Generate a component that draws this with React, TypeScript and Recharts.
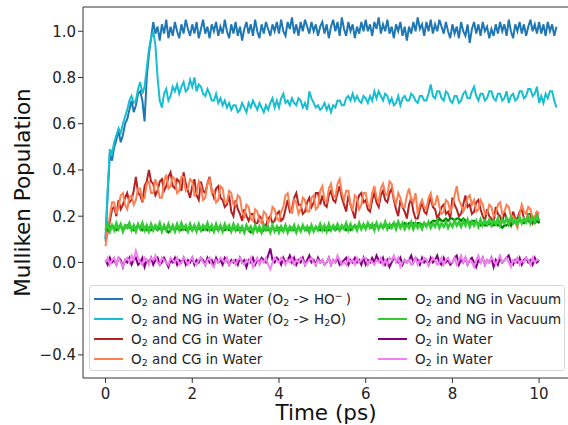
import React from "react";
import { LineChart, Line, XAxis, YAxis, Label, ReferenceLine } from "recharts";

const TIME = [
  0.0, 0.05, 0.1, 0.15, 0.2, 0.25, 0.3, 0.35, 0.4, 0.45, 0.5, 0.55, 0.6, 0.65, 0.7, 0.75, 0.8, 0.85, 0.9, 0.95,
  1.0, 1.05, 1.1, 1.15, 1.2, 1.25, 1.3, 1.35, 1.4, 1.45, 1.5, 1.55, 1.6, 1.65, 1.7, 1.75, 1.8, 1.85, 1.9, 1.95,
  2.0, 2.05, 2.1, 2.15, 2.2, 2.25, 2.3, 2.35, 2.4, 2.45, 2.5, 2.55, 2.6, 2.65, 2.7, 2.75, 2.8, 2.85, 2.9, 2.95,
  3.0, 3.05, 3.1, 3.15, 3.2, 3.25, 3.3, 3.35, 3.4, 3.45, 3.5, 3.55, 3.6, 3.65, 3.7, 3.75, 3.8, 3.85, 3.9, 3.95,
  4.0, 4.05, 4.1, 4.15, 4.2, 4.25, 4.3, 4.35, 4.4, 4.45, 4.5, 4.55, 4.6, 4.65, 4.7, 4.75, 4.8, 4.85, 4.9, 4.95,
  5.0, 5.05, 5.1, 5.15, 5.2, 5.25, 5.3, 5.35, 5.4, 5.45, 5.5, 5.55, 5.6, 5.65, 5.7, 5.75, 5.8, 5.85, 5.9, 5.95,
  6.0, 6.05, 6.1, 6.15, 6.2, 6.25, 6.3, 6.35, 6.4, 6.45, 6.5, 6.55, 6.6, 6.65, 6.7, 6.75, 6.8, 6.85, 6.9, 6.95,
  7.0, 7.05, 7.1, 7.15, 7.2, 7.25, 7.3, 7.35, 7.4, 7.45, 7.5, 7.55, 7.6, 7.65, 7.7, 7.75, 7.8, 7.85, 7.9, 7.95,
  8.0, 8.05, 8.1, 8.15, 8.2, 8.25, 8.3, 8.35, 8.4, 8.45, 8.5, 8.55, 8.6, 8.65, 8.7, 8.75, 8.8, 8.85, 8.9, 8.95,
  9.0, 9.05, 9.1, 9.15, 9.2, 9.25, 9.3, 9.35, 9.4, 9.45, 9.5, 9.55, 9.6, 9.65, 9.7, 9.75, 9.8, 9.85, 9.9, 9.95,
  10.0, 10.05, 10.1, 10.15, 10.2, 10.25, 10.3, 10.35, 10.4,
];

// O2 and NG in Water (O2 -> HO-)
const NG_WATER_HO = [
  0.10, 0.30, 0.47, 0.44, 0.50, 0.53, 0.57, 0.52, 0.55, 0.60, 0.62, 0.66, 0.70, 0.65, 0.68, 0.73, 0.74, 0.70, 0.61, 0.80,
  0.90, 0.97, 1.04, 0.99, 1.02, 0.96, 1.03, 0.99, 1.05, 0.97, 1.02, 0.98, 1.04, 1.00, 0.97, 1.03, 0.99, 1.05, 1.01, 0.98,
  1.03, 0.99, 1.04, 0.97, 1.01, 1.05, 0.99, 1.02, 0.97, 1.03, 1.00, 1.04, 0.98, 1.02, 0.99, 1.05, 1.00, 0.97, 1.03, 0.99,
  1.04, 0.98, 1.02, 0.96, 1.01, 1.04, 0.99, 1.03, 0.98, 1.05, 1.00, 0.97, 1.03, 0.99, 1.04, 1.01, 0.98, 1.03, 1.00, 1.04,
  0.99, 1.05, 1.00, 0.98, 1.04, 1.01, 1.06, 0.99, 1.03, 0.98, 1.04, 1.00, 1.05, 1.02, 0.99, 1.04, 1.00, 1.03, 0.98, 1.02,
  1.04, 0.99, 1.03, 0.97, 1.02, 1.05, 1.00, 1.04, 0.98, 1.06, 1.01, 0.98, 1.04, 1.00, 1.03, 0.97, 1.02, 0.99, 1.04, 1.00,
  1.05, 1.00, 1.03, 0.98, 1.04, 1.01, 1.06, 0.99, 1.03, 1.00, 1.05, 0.99, 1.02, 0.97, 1.03, 1.00, 1.04, 0.98, 1.02, 0.96,
  1.02, 0.99, 1.04, 1.00, 1.06, 1.01, 1.03, 0.98, 1.04, 1.00, 1.05, 0.99, 1.03, 1.00, 1.05, 1.02, 0.99, 1.04, 1.00, 0.97,
  1.03, 0.99, 1.02, 0.97, 1.04, 1.00, 0.98, 1.03, 0.95, 1.01, 1.04, 0.99, 1.03, 0.98, 1.04, 1.00, 1.02, 0.97, 1.01, 0.98,
  1.03, 0.99, 1.04, 1.00, 1.03, 0.98, 1.05, 1.00, 0.97, 1.03, 1.00, 1.04, 0.99, 1.03, 0.98, 1.02, 1.05, 1.00, 1.03, 0.99,
  1.04, 0.99, 1.03, 0.98, 1.04, 1.00, 1.03, 0.98, 1.02,
];

// O2 and NG in Water (O2 -> H2O)
const NG_WATER_H2O = [
  0.10, 0.32, 0.49, 0.47, 0.52, 0.55, 0.58, 0.56, 0.60, 0.63, 0.66, 0.70, 0.72, 0.69, 0.70, 0.75, 0.78, 0.73, 0.76, 0.84,
  0.92, 0.97, 1.00, 0.94, 0.80, 0.70, 0.67, 0.73, 0.75, 0.70, 0.72, 0.76, 0.74, 0.77, 0.73, 0.76, 0.78, 0.74, 0.75, 0.79,
  0.76, 0.80, 0.74, 0.77, 0.76, 0.73, 0.72, 0.75, 0.73, 0.70, 0.70, 0.73, 0.69, 0.71, 0.68, 0.70, 0.67, 0.69, 0.66, 0.68,
  0.68, 0.65, 0.66, 0.69, 0.67, 0.65, 0.69, 0.67, 0.70, 0.68, 0.66, 0.69, 0.67, 0.65, 0.68, 0.66, 0.69, 0.71, 0.67, 0.70,
  0.67, 0.71, 0.73, 0.69, 0.70, 0.68, 0.71, 0.69, 0.68, 0.71, 0.70, 0.67, 0.69, 0.66, 0.74, 0.71, 0.69, 0.67, 0.68, 0.66,
  0.67, 0.69, 0.66, 0.68, 0.65, 0.68, 0.67, 0.70, 0.70, 0.68, 0.68, 0.71, 0.72, 0.70, 0.73, 0.70, 0.72, 0.70, 0.69, 0.72,
  0.71, 0.69, 0.72, 0.70, 0.74, 0.71, 0.74, 0.72, 0.70, 0.73, 0.72, 0.69, 0.71, 0.68, 0.69, 0.72, 0.68, 0.71, 0.72, 0.70,
  0.70, 0.73, 0.72, 0.70, 0.69, 0.72, 0.72, 0.70, 0.70, 0.73, 0.77, 0.72, 0.71, 0.74, 0.74, 0.71, 0.70, 0.74, 0.73, 0.70,
  0.69, 0.72, 0.72, 0.69, 0.70, 0.73, 0.74, 0.71, 0.71, 0.74, 0.76, 0.72, 0.70, 0.73, 0.73, 0.70, 0.71, 0.74, 0.74, 0.71,
  0.70, 0.73, 0.73, 0.70, 0.71, 0.74, 0.69, 0.72, 0.73, 0.70, 0.71, 0.74, 0.74, 0.71, 0.72, 0.75, 0.75, 0.72, 0.73, 0.76,
  0.69, 0.72, 0.69, 0.73, 0.71, 0.74, 0.74, 0.70, 0.67,
];

// O2 and CG in Water (firebrick)
const CG_WATER_A = [
  0.09, 0.13, 0.18, 0.23, 0.24, 0.20, 0.27, 0.23, 0.25, 0.28, 0.30, 0.26, 0.27, 0.31, 0.37, 0.30, 0.29, 0.26, 0.33, 0.35,
  0.40, 0.35, 0.34, 0.29, 0.31, 0.35, 0.36, 0.31, 0.33, 0.37, 0.39, 0.33, 0.32, 0.36, 0.35, 0.31, 0.39, 0.34, 0.31, 0.28,
  0.33, 0.36, 0.29, 0.27, 0.35, 0.31, 0.30, 0.34, 0.37, 0.31, 0.28, 0.32, 0.33, 0.28, 0.27, 0.24, 0.25, 0.29, 0.22, 0.20,
  0.27, 0.23, 0.21, 0.18, 0.23, 0.20, 0.18, 0.21, 0.21, 0.17, 0.17, 0.20, 0.19, 0.16, 0.16, 0.19, 0.20, 0.17, 0.18, 0.21,
  0.22, 0.18, 0.19, 0.23, 0.27, 0.22, 0.23, 0.28, 0.30, 0.25, 0.25, 0.21, 0.22, 0.26, 0.28, 0.24, 0.26, 0.30, 0.30, 0.25,
  0.29, 0.25, 0.24, 0.29, 0.31, 0.27, 0.26, 0.30, 0.33, 0.28, 0.25, 0.22, 0.29, 0.25, 0.22, 0.19, 0.26, 0.29, 0.30, 0.26,
  0.27, 0.23, 0.22, 0.27, 0.30, 0.26, 0.24, 0.29, 0.31, 0.27, 0.26, 0.30, 0.32, 0.27, 0.23, 0.20, 0.27, 0.24, 0.22, 0.19,
  0.25, 0.28, 0.22, 0.19, 0.19, 0.23, 0.26, 0.22, 0.21, 0.25, 0.28, 0.24, 0.23, 0.19, 0.21, 0.24, 0.25, 0.21, 0.22, 0.19,
  0.28, 0.25, 0.23, 0.20, 0.21, 0.25, 0.29, 0.24, 0.25, 0.21, 0.22, 0.26, 0.27, 0.23, 0.20, 0.18, 0.23, 0.20, 0.19, 0.17,
  0.24, 0.21, 0.20, 0.17, 0.22, 0.19, 0.18, 0.16, 0.22, 0.19, 0.19, 0.22, 0.23, 0.19, 0.18, 0.21, 0.21, 0.17, 0.19, 0.22,
  0.17,
];

// O2 and CG in Water (coral)
const CG_WATER_B = [
  0.07, 0.15, 0.20, 0.26, 0.26, 0.21, 0.24, 0.29, 0.30, 0.25, 0.23, 0.28, 0.29, 0.25, 0.27, 0.32, 0.32, 0.27, 0.28, 0.34,
  0.35, 0.30, 0.30, 0.36, 0.33, 0.28, 0.28, 0.35, 0.38, 0.32, 0.33, 0.37, 0.36, 0.30, 0.31, 0.37, 0.37, 0.31, 0.32, 0.36,
  0.35, 0.29, 0.30, 0.35, 0.33, 0.27, 0.28, 0.34, 0.36, 0.30, 0.31, 0.26, 0.27, 0.33, 0.32, 0.26, 0.26, 0.31, 0.30, 0.25,
  0.25, 0.29, 0.28, 0.22, 0.20, 0.25, 0.24, 0.19, 0.18, 0.23, 0.22, 0.18, 0.17, 0.22, 0.21, 0.17, 0.19, 0.24, 0.23, 0.19,
  0.18, 0.22, 0.24, 0.29, 0.30, 0.24, 0.21, 0.27, 0.26, 0.21, 0.23, 0.28, 0.27, 0.22, 0.22, 0.28, 0.29, 0.23, 0.24, 0.31,
  0.33, 0.27, 0.26, 0.32, 0.34, 0.29, 0.28, 0.34, 0.36, 0.30, 0.27, 0.31, 0.31, 0.25, 0.23, 0.29, 0.28, 0.23, 0.25, 0.30,
  0.30, 0.25, 0.24, 0.30, 0.33, 0.28, 0.26, 0.32, 0.34, 0.30, 0.29, 0.35, 0.34, 0.28, 0.25, 0.30, 0.28, 0.24, 0.24, 0.29,
  0.32, 0.27, 0.26, 0.30, 0.21, 0.25, 0.27, 0.24, 0.23, 0.28, 0.30, 0.25, 0.25, 0.29, 0.24, 0.21, 0.22, 0.27, 0.26, 0.22,
  0.24, 0.29, 0.33, 0.27, 0.25, 0.22, 0.24, 0.28, 0.29, 0.25, 0.27, 0.22, 0.23, 0.27, 0.25, 0.21, 0.21, 0.25, 0.24, 0.20,
  0.21, 0.25, 0.26, 0.21, 0.22, 0.25, 0.24, 0.20, 0.20, 0.17, 0.15, 0.21, 0.25, 0.22, 0.21, 0.24, 0.23, 0.19, 0.20, 0.22,
  0.21,
];

// O2 and NG in Vacuum (green)
const NG_VACUUM_A = [
  0.15, 0.14, 0.15, 0.16, 0.15, 0.14, 0.15, 0.16, 0.14, 0.15, 0.16, 0.15, 0.15, 0.14, 0.15, 0.16, 0.15, 0.14, 0.15, 0.14,
  0.15, 0.14, 0.15, 0.15, 0.14, 0.15, 0.14, 0.15, 0.14, 0.13, 0.14, 0.15, 0.14, 0.15, 0.14, 0.14, 0.15, 0.14, 0.14, 0.15,
  0.14, 0.15, 0.14, 0.15, 0.14, 0.14, 0.15, 0.14, 0.15, 0.14, 0.14, 0.15, 0.14, 0.15, 0.14, 0.14, 0.15, 0.14, 0.14, 0.15,
  0.14, 0.14, 0.15, 0.14, 0.14, 0.15, 0.14, 0.13, 0.14, 0.15, 0.14, 0.14, 0.13, 0.14, 0.15, 0.14, 0.14, 0.15, 0.14, 0.14,
  0.15, 0.14, 0.14, 0.15, 0.14, 0.14, 0.15, 0.14, 0.14, 0.15, 0.14, 0.15, 0.15, 0.14, 0.15, 0.15, 0.14, 0.15, 0.15, 0.14,
  0.15, 0.14, 0.15, 0.14, 0.15, 0.15, 0.14, 0.15, 0.14, 0.15, 0.15, 0.14, 0.15, 0.14, 0.15, 0.16, 0.15, 0.16, 0.15, 0.16,
  0.15, 0.16, 0.16, 0.15, 0.16, 0.16, 0.15, 0.16, 0.15, 0.16, 0.16, 0.15, 0.16, 0.17, 0.16, 0.17, 0.16, 0.16, 0.17, 0.16,
  0.17, 0.16, 0.17, 0.16, 0.17, 0.17, 0.16, 0.17, 0.16, 0.17, 0.17, 0.18, 0.18, 0.17, 0.19, 0.18, 0.18, 0.19, 0.18, 0.19,
  0.19, 0.18, 0.19, 0.19, 0.18, 0.19, 0.18, 0.18, 0.17, 0.18, 0.18, 0.17, 0.17, 0.16, 0.17, 0.16, 0.16, 0.17, 0.16, 0.16,
  0.17, 0.16, 0.16, 0.15, 0.16, 0.16, 0.17, 0.16, 0.17, 0.18, 0.17, 0.18, 0.18, 0.17, 0.18, 0.18, 0.17, 0.18, 0.17, 0.18,
  0.17,
];

// O2 and NG in Vacuum (limegreen)
const NG_VACUUM_B = [
  0.14, 0.165, 0.135, 0.16, 0.14, 0.17, 0.145, 0.165, 0.135, 0.16, 0.15, 0.17, 0.14, 0.16, 0.135, 0.165, 0.145, 0.17, 0.14, 0.16,
  0.135, 0.165, 0.14, 0.16, 0.145, 0.17, 0.135, 0.16, 0.14, 0.165, 0.14, 0.16, 0.135, 0.165, 0.14, 0.17, 0.145, 0.16, 0.135, 0.165,
  0.14, 0.16, 0.135, 0.165, 0.14, 0.16, 0.145, 0.17, 0.14, 0.16, 0.135, 0.165, 0.14, 0.16, 0.135, 0.165, 0.145, 0.16, 0.135, 0.165,
  0.14, 0.16, 0.135, 0.155, 0.13, 0.16, 0.14, 0.155, 0.13, 0.16, 0.135, 0.155, 0.13, 0.16, 0.14, 0.155, 0.13, 0.16, 0.135, 0.155,
  0.13, 0.155, 0.135, 0.16, 0.13, 0.155, 0.14, 0.16, 0.13, 0.155, 0.135, 0.16, 0.14, 0.155, 0.13, 0.16, 0.135, 0.155, 0.14, 0.165,
  0.14, 0.16, 0.135, 0.165, 0.14, 0.16, 0.145, 0.165, 0.14, 0.16, 0.145, 0.17, 0.14, 0.165, 0.145, 0.16, 0.14, 0.17, 0.145, 0.165,
  0.145, 0.17, 0.15, 0.165, 0.14, 0.17, 0.145, 0.165, 0.15, 0.175, 0.145, 0.165, 0.15, 0.17, 0.145, 0.175, 0.15, 0.17, 0.145, 0.165,
  0.15, 0.175, 0.145, 0.17, 0.15, 0.165, 0.145, 0.17, 0.155, 0.175, 0.15, 0.17, 0.155, 0.18, 0.15, 0.17, 0.155, 0.175, 0.15, 0.17,
  0.155, 0.18, 0.16, 0.175, 0.155, 0.18, 0.16, 0.185, 0.155, 0.175, 0.16, 0.18, 0.155, 0.185, 0.16, 0.18, 0.165, 0.185, 0.16, 0.18,
  0.165, 0.19, 0.16, 0.185, 0.17, 0.19, 0.165, 0.195, 0.17, 0.185, 0.165, 0.195, 0.17, 0.19, 0.175, 0.2, 0.17, 0.195, 0.175, 0.2,
  0.18,
];

// O2 in Water (purple)
const O2_WATER_A = [
  0.01, -0.01, 0.02, 0.00, 0.01, -0.01, 0.02, 0.01, -0.02, 0.01, 0.00, 0.02, -0.01, 0.01, 0.02, -0.01, 0.00, 0.02, -0.02, 0.01,
  0.00, 0.02, -0.01, 0.01, 0.02, -0.01, 0.00, 0.02, 0.00, -0.02, 0.01, 0.00, 0.02, -0.01, 0.01, 0.00, 0.02, -0.01, 0.01, 0.00,
  0.02, -0.01, 0.01, 0.00, 0.02, 0.01, -0.01, 0.02, 0.00, 0.01, -0.01, 0.02, 0.00, 0.01, -0.01, 0.02, 0.01, -0.01, 0.01, 0.00,
  0.01, -0.01, 0.02, 0.00, 0.01, -0.02, 0.01, 0.00, 0.02, -0.01, 0.01, 0.00, 0.02, 0.01, 0.00, 0.03, 0.06, 0.01, 0.00, 0.02,
  0.01, -0.01, 0.02, 0.00, 0.01, 0.03, 0.00, 0.02, -0.01, 0.01, 0.00, 0.02, -0.01, 0.01, 0.03, 0.00, 0.01, -0.01, 0.02, 0.00,
  0.01, -0.01, 0.00, 0.02, -0.01, 0.01, 0.00, 0.02, -0.01, 0.00, 0.01, 0.02, -0.01, 0.01, 0.00, 0.02, 0.00, 0.01, -0.01, 0.02,
  -0.01, 0.01, 0.00, 0.02, 0.00, 0.03, 0.01, 0.00, 0.02, -0.01, 0.01, -0.02, 0.00, 0.02, 0.01, 0.00, 0.02, -0.01, 0.01, 0.00,
  0.01, 0.03, 0.00, 0.02, 0.01, -0.01, 0.02, 0.00, 0.01, -0.01, 0.02, 0.00, 0.01, 0.03, 0.00, -0.01, 0.02, 0.00, 0.01, -0.01,
  0.00, 0.02, 0.03, -0.01, 0.01, 0.00, 0.02, -0.01, 0.01, 0.02, 0.00, -0.02, 0.01, 0.00, 0.02, -0.01, 0.01, 0.00, 0.02, -0.02,
  0.01, -0.01, 0.02, 0.00, 0.01, 0.02, 0.03, 0.00, -0.01, 0.01, 0.00, 0.02, -0.01, 0.01, 0.02, 0.00, 0.01, -0.01, 0.02, 0.00,
  0.01,
];

// O2 in Water (violet)
const O2_WATER_B = [
  0.00, 0.02, -0.01, 0.01, 0.02, -0.01, 0.02, 0.00, -0.02, 0.01, 0.02, 0.00, 0.03, 0.01, 0.05, 0.02, 0.00, -0.01, 0.02, 0.01,
  -0.01, 0.02, 0.01, 0.03, 0.00, -0.01, 0.02, 0.01, 0.00, -0.01, 0.02, 0.01, 0.00, 0.02, -0.01, 0.00, 0.02, 0.01, -0.01, 0.01,
  0.02, 0.00, -0.01, 0.01, 0.02, 0.00, -0.01, 0.01, 0.02, -0.01, -0.02, 0.01, 0.00, 0.02, 0.01, 0.00, 0.02, -0.01, 0.00, 0.01,
  -0.01, 0.01, 0.02, 0.00, -0.01, 0.01, 0.00, 0.02, -0.02, 0.00, 0.02, -0.01, 0.01, 0.00, 0.02, -0.01, -0.03, 0.00, 0.02, 0.01,
  0.00, 0.02, 0.01, -0.01, 0.01, 0.00, 0.02, -0.01, 0.01, 0.00, 0.02, 0.01, -0.01, 0.00, 0.01, 0.02, 0.00, -0.01, 0.01, 0.00,
  0.01, -0.01, 0.00, 0.02, -0.01, 0.01, 0.00, 0.03, 0.01, -0.01, 0.00, -0.01, 0.02, 0.00, 0.01, -0.01, 0.02, 0.00, 0.01, 0.02,
  0.02, -0.01, 0.01, 0.00, -0.01, 0.01, 0.00, 0.02, -0.01, 0.01, -0.01, 0.02, 0.01, 0.03, 0.00, 0.02, -0.02, 0.00, 0.01, 0.00,
  0.01, -0.01, 0.00, 0.02, -0.01, 0.01, 0.00, 0.02, 0.01, -0.01, 0.00, 0.02, 0.01, -0.01, 0.00, 0.02, -0.01, 0.01, 0.02, 0.00,
  0.00, 0.02, -0.01, 0.01, 0.03, 0.00, 0.02, -0.01, 0.01, 0.00, -0.02, 0.01, 0.03, 0.00, 0.02, -0.01, 0.01, 0.00, 0.02, 0.01,
  -0.01, 0.01, 0.03, 0.00, 0.01, 0.02, 0.00, -0.02, 0.01, 0.00, 0.02, -0.01, 0.01, 0.00, 0.02, 0.01, -0.01, 0.02, 0.00, 0.01,
  0.01,
];

const X_TICKS = [0, 2, 4, 6, 8, 10];
const Y_TICKS = [-0.4, -0.2, 0.0, 0.2, 0.4, 0.6, 0.8, 1.0];

const FONT = "'DejaVu Sans', sans-serif";
const Sub = ({ children }: { children: React.ReactNode }) => (
  <sub style={{ fontSize: "70%", verticalAlign: "-0.25em", lineHeight: 0 }}>{children}</sub>
);

const SERIES = [
  {
    key: "ngHo", data: NG_WATER_HO, color: "#1f77b4", width: 2,
    label: (
      <>
        O<Sub>2</Sub> and NG in Water (O<Sub>2</Sub> -&gt; HO
        <sup style={{ fontSize: "70%", lineHeight: 0, marginRight: 3 }}>−</sup>)
      </>
    ),
  },
  {
    key: "ngH2o", data: NG_WATER_H2O, color: "#17becf", width: 2,
    label: <>O<Sub>2</Sub> and NG in Water (O<Sub>2</Sub> -&gt; H<Sub>2</Sub>O)</>,
  },
  { key: "cgA", data: CG_WATER_A, color: "#b22222", width: 2, label: <>O<Sub>2</Sub> and CG in Water</> },
  { key: "cgB", data: CG_WATER_B, color: "#ff7f50", width: 2, label: <>O<Sub>2</Sub> and CG in Water</> },
  { key: "vacA", data: NG_VACUUM_A, color: "#008000", width: 2.2, label: <>O<Sub>2</Sub> and NG in Vacuum</> },
  { key: "vacB", data: NG_VACUUM_B, color: "#32cd32", width: 2.6, label: <>O<Sub>2</Sub> and NG in Vacuum</> },
  { key: "wA", data: O2_WATER_A, color: "#800080", width: 2, label: <>O<Sub>2</Sub> in Water</> },
  { key: "wB", data: O2_WATER_B, color: "#ee82ee", width: 2, label: <>O<Sub>2</Sub> in Water</> },
];

const rows = TIME.map((t, i) => {
  const row: Record<string, number> = { t };
  SERIES.forEach((s) => {
    if (i < s.data.length) row[s.key] = s.data[i];
  });
  return row;
});

const fmt = (v: number) => v.toFixed(1).replace("-", "\u2212");

const XTick = (props: any) => (
  <text x={props.x} y={props.y} dy="0.71em" textAnchor="middle" fontSize={15} fontFamily={FONT} fill="#222">
    {props.payload.value}
  </text>
);

const YTick = (props: any) => (
  <text x={props.x} y={props.y} dy="0.36em" textAnchor="end" fontSize={15} fontFamily={FONT} fill="#222">
    {fmt(props.payload.value)}
  </text>
);

function ChartLegend() {
  return (
    <div
      style={{
        position: "absolute", left: 89, top: 285, width: 476, height: 86,
        boxSizing: "border-box", border: "1px solid #d6d6d6", borderRadius: 3,
        background: "rgba(255,255,255,0.8)", fontFamily: FONT, fontSize: 13.5, color: "#222",
        display: "grid", gridTemplateColumns: "284px auto", gridAutoFlow: "column",
        gridTemplateRows: "repeat(4, 20px)", padding: "3px 0 0 4px",
      }}
    >
      {SERIES.map((s) => (
        <div key={s.key} style={{ display: "flex", alignItems: "center", height: 20, whiteSpace: "nowrap" }}>
          <span style={{ display: "inline-block", width: 29, height: 2, background: s.color, marginRight: 8 }} />
          <span>{s.label}</span>
        </div>
      ))}
    </div>
  );
}

export default function App() {
  return (
    <div style={{ position: "absolute", left: 0, top: 0, width: 568, height: 425, overflow: "hidden", background: "#fff" }}>
      <LineChart width={590} height={425} data={rows} margin={{ top: 7, right: 11, left: 0, bottom: 0 }}>
        <XAxis
          dataKey="t" type="number" domain={[-0.52, 10.92]} allowDataOverflow ticks={X_TICKS}
          height={47} tickSize={5} tickMargin={5} tick={XTick}
          axisLine={{ stroke: "#333" }} tickLine={{ stroke: "#333" }}
        >
          <Label
            content={(p: any) => (
              <text
                x={p.viewBox.x + p.viewBox.width / 2 - 5} y={p.viewBox.y + 34}
                dy="0.36em" textAnchor="middle" fontSize={21.5} fontFamily={FONT} fill="#111"
              >
                Time (ps)
              </text>
            )}
          />
        </XAxis>
        <YAxis
          type="number" domain={[-0.5, 1.105]} allowDataOverflow ticks={Y_TICKS}
          width={83} tickSize={5} tickMargin={2} tick={YTick}
          axisLine={{ stroke: "#333" }} tickLine={{ stroke: "#333" }}
        >
          <Label
            content={(p: any) => {
              const cx = p.viewBox.x + 22;
              const cy = p.viewBox.y + p.viewBox.height / 2;
              return (
                <text
                  x={cx} y={cy} dy="0.36em" transform={`rotate(-90 ${cx} ${cy})`}
                  textAnchor="middle" fontSize={21.5} fontFamily={FONT} fill="#111"
                >
                  Mulliken Population
                </text>
              );
            }}
          />
        </YAxis>
        <ReferenceLine y={1.105} stroke="#333" strokeWidth={1} />
        {SERIES.map((s) => (
          <Line
            key={s.key} dataKey={s.key} stroke={s.color} strokeWidth={s.width}
            dot={false} activeDot={false} isAnimationActive={false} type="linear"
          />
        ))}
      </LineChart>
      <ChartLegend />
    </div>
  );
}
